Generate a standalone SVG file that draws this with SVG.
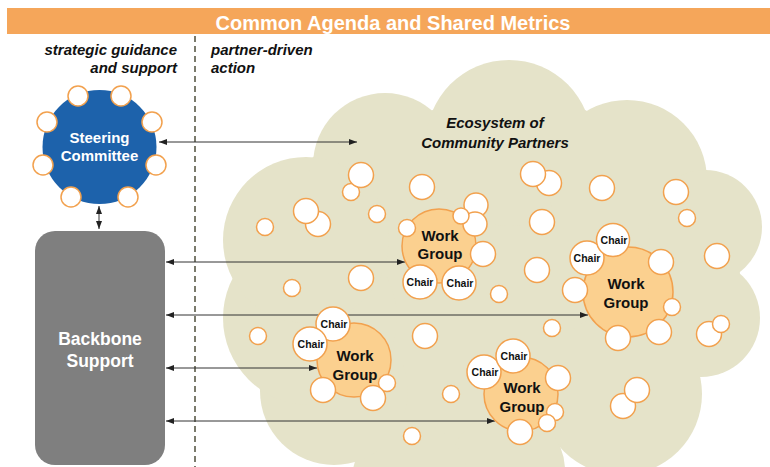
<svg xmlns="http://www.w3.org/2000/svg" width="770" height="467" viewBox="0 0 770 467">
<defs>
<marker id="ah" viewBox="0 0 8 6" refX="8" refY="3" markerWidth="8" markerHeight="6" markerUnits="userSpaceOnUse" orient="auto-start-reverse"><path d="M0,0 L8,3 L0,6z" fill="#222"/></marker>
</defs>
<style>
.t{font-family:"Liberation Sans",Arial,sans-serif;font-weight:bold}
.bi{font-family:"Liberation Sans",Arial,sans-serif;font-weight:bold;font-style:italic;font-size:15px;fill:#111}
.w{fill:#fff}
.c{fill:#fff;stroke:#f2a14e;stroke-width:1.5}
.wg{fill:#fbd08f;stroke:#f2a14e;stroke-width:1.5}
.wgt{font-family:"Liberation Sans",Arial,sans-serif;font-weight:bold;font-size:15px;fill:#111;text-anchor:middle}
.ch{font-family:"Liberation Sans",Arial,sans-serif;font-weight:bold;font-size:10.5px;fill:#111;text-anchor:middle}
.cl{fill:#e5e3c9}
.cn{stroke:#333;stroke-width:1;fill:none;marker-start:url(#ah);marker-end:url(#ah)}
</style>
<rect width="770" height="467" fill="#fff"/>
<g id="header">
<rect x="7" y="8" width="763" height="26" fill="#f5a65a"/>
<text class="t w" x="393" y="30" font-size="20" text-anchor="middle">Common Agenda and Shared Metrics</text>
</g>
<g id="labels">
<text class="bi" x="177" y="55" text-anchor="end">strategic guidance</text>
<text class="bi" x="177" y="73" text-anchor="end">and support</text>
<text class="bi" x="211" y="55">partner-driven</text>
<text class="bi" x="211" y="73">action</text>
</g>
<line id="divider" x1="195" y1="36" x2="195" y2="467" stroke="#4f4f3c" stroke-width="1.5" stroke-dasharray="6 4"/>
<g id="cloud" class="cl">
<polygon points="313,157 433,110 585,110 710,172 740,273 700,377 560,447 453,445 375,462 260,390 233,277"/>
<circle cx="385" cy="165" r="72"/>
<circle cx="509" cy="143" r="83"/>
<circle cx="627" cy="180" r="80"/>
<circle cx="705" cy="227" r="57"/>
<circle cx="701" cy="318" r="59"/>
<circle cx="621" cy="394" r="81"/>
<circle cx="507" cy="470" r="58"/>
<circle cx="410" cy="480" r="58"/>
<circle cx="334" cy="391" r="74"/>
<circle cx="310" cy="318" r="87"/>
<circle cx="306" cy="240" r="83"/>
<text class="bi" x="495" y="128" text-anchor="middle" font-size="15.5">Ecosystem of</text>
<text class="bi" x="495" y="148" text-anchor="middle" font-size="15.5">Community Partners</text>
</g>
<g id="connectors">
<line class="cn" x1="159" y1="142" x2="357" y2="142"/>
<line class="cn" x1="99" y1="206" x2="99" y2="229"/>
<line class="cn" x1="166" y1="262" x2="405" y2="262"/>
<line class="cn" x1="166" y1="315" x2="588" y2="315"/>
<line class="cn" x1="166" y1="368" x2="317" y2="368"/>
<line class="cn" x1="166" y1="421" x2="495" y2="421"/>
</g>
<g id="steering">
<circle cx="99.5" cy="147" r="57" fill="#1d62ab"/>
<circle class="c" cx="78" cy="96" r="10"/>
<circle class="c" cx="121" cy="96" r="10"/>
<circle class="c" cx="47" cy="122" r="10"/>
<circle class="c" cx="152" cy="122" r="10"/>
<circle class="c" cx="43" cy="165" r="10"/>
<circle class="c" cx="156" cy="165" r="10"/>
<circle class="c" cx="71" cy="197" r="10"/>
<circle class="c" cx="128" cy="197" r="10"/>
<text class="t w" x="99.5" y="143" font-size="15" text-anchor="middle">Steering</text>
<text class="t w" x="99.5" y="161" font-size="15" text-anchor="middle">Committee</text>
</g>
<g id="backbone">
<rect x="35" y="231" width="130" height="234" rx="20" fill="#7f7f7f"/>
<text class="t w" x="100" y="345" font-size="17.5" text-anchor="middle">Backbone</text>
<text class="t w" x="100" y="367" font-size="17.5" text-anchor="middle">Support</text>
</g>
<g id="partners">
<circle class="c" cx="351" cy="192" r="8.5"/>
<circle class="c" cx="361" cy="175" r="12.5"/>
<circle class="c" cx="422" cy="187" r="12.5"/>
<circle class="c" cx="318" cy="224" r="12.5"/>
<circle class="c" cx="306" cy="211" r="12.5"/>
<circle class="c" cx="549" cy="183" r="12.5"/>
<circle class="c" cx="533" cy="174" r="12.5"/>
<circle class="c" cx="602" cy="188" r="12.5"/>
<circle class="c" cx="676" cy="192" r="12.5"/>
<circle class="c" cx="542" cy="222" r="12.5"/>
<circle class="c" cx="717" cy="256" r="12.5"/>
<circle class="c" cx="537" cy="270" r="12.5"/>
<circle class="c" cx="361" cy="278" r="12.5"/>
<circle class="c" cx="425" cy="336" r="12.5"/>
<circle class="c" cx="709" cy="334" r="12.5"/>
<circle class="c" cx="721" cy="324" r="8.5"/>
<circle class="c" cx="623" cy="406" r="12.5"/>
<circle class="c" cx="637" cy="390" r="12.5"/>
<circle class="c" cx="377" cy="214" r="8.5"/>
<circle class="c" cx="265" cy="227" r="8.5"/>
<circle class="c" cx="292" cy="288" r="8.5"/>
<circle class="c" cx="687" cy="218" r="8.5"/>
<circle class="c" cx="499" cy="294" r="8.5"/>
<circle class="c" cx="552" cy="328" r="8.5"/>
<circle class="c" cx="258" cy="336" r="8.5"/>
<circle class="c" cx="451" cy="394" r="8.5"/>
<circle class="c" cx="412" cy="436" r="8.5"/>
</g>
<g id="workgroup1">
<circle class="wg" cx="439" cy="246" r="37"/>
<circle class="c" cx="476" cy="205" r="12"/>
<circle class="c" cx="475" cy="224" r="12"/>
<circle class="c" cx="461" cy="216" r="8"/>
<circle class="c" cx="407" cy="228" r="8.5"/>
<circle class="c" cx="483" cy="254" r="12.5"/>
<text class="wgt" x="440" y="241">Work</text>
<text class="wgt" x="440" y="259">Group</text>
<circle class="c" cx="420" cy="282" r="17"/>
<circle class="c" cx="459" cy="283" r="17"/>
<text class="ch" x="420" y="286">Chair</text>
<text class="ch" x="460" y="287">Chair</text>
</g>
<g id="workgroup2">
<circle class="wg" cx="628" cy="292" r="45"/>
<circle class="c" cx="575" cy="290" r="12.5"/>
<circle class="c" cx="661" cy="262" r="12.5"/>
<circle class="c" cx="672" cy="307" r="8.5"/>
<circle class="c" cx="659" cy="332" r="12.5"/>
<circle class="c" cx="618" cy="338" r="12.5"/>
<text class="wgt" x="626" y="289">Work</text>
<text class="wgt" x="626" y="308">Group</text>
<circle class="c" cx="587" cy="258" r="17"/>
<circle class="c" cx="613" cy="240" r="16.5"/>
<text class="ch" x="587" y="262">Chair</text>
<text class="ch" x="614" y="244">Chair</text>
</g>
<g id="workgroup3">
<circle class="wg" cx="354" cy="360" r="37"/>
<circle class="c" cx="323" cy="390" r="12.5"/>
<circle class="c" cx="387" cy="383" r="8.5"/>
<circle class="c" cx="373" cy="398" r="12.5"/>
<text class="wgt" x="355" y="361">Work</text>
<text class="wgt" x="355" y="380">Group</text>
<circle class="c" cx="333" cy="324" r="17"/>
<circle class="c" cx="310" cy="344" r="17"/>
<text class="ch" x="334" y="328">Chair</text>
<text class="ch" x="311" y="348">Chair</text>
</g>
<g id="workgroup4">
<circle class="wg" cx="521" cy="394" r="37"/>
<circle class="c" cx="558" cy="378" r="12.5"/>
<circle class="c" cx="555" cy="412" r="8.5"/>
<circle class="c" cx="547" cy="423" r="8.5"/>
<circle class="c" cx="520" cy="432" r="12.5"/>
<text class="wgt" x="522" y="393">Work</text>
<text class="wgt" x="522" y="412">Group</text>
<circle class="c" cx="484" cy="372" r="17"/>
<circle class="c" cx="513" cy="356" r="17"/>
<text class="ch" x="485" y="376">Chair</text>
<text class="ch" x="514" y="360">Chair</text>
</g>
</svg>
